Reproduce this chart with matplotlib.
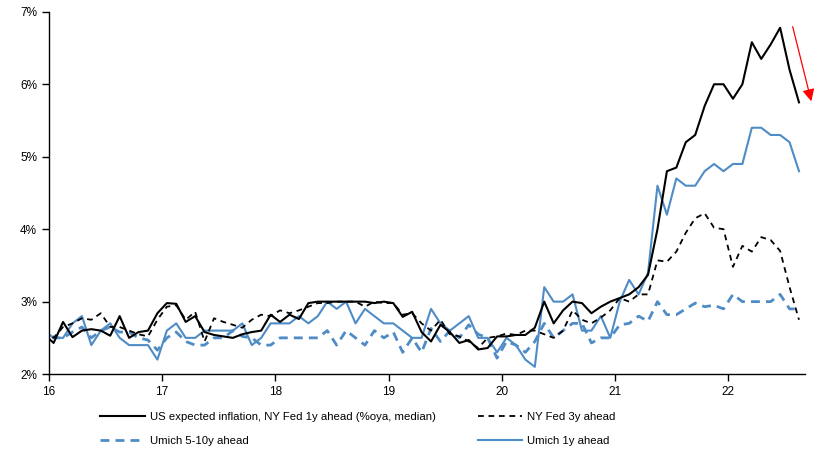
import matplotlib
matplotlib.use("Agg")
import matplotlib.pyplot as plt
import numpy as np

# monthly data, Dec 2015 .. Aug 2022 (%oya)
ny_fed_1y = [
    2.55,
    2.43, 2.72, 2.51, 2.60, 2.62, 2.60, 2.53, 2.80, 2.50, 2.58, 2.60, 2.84,
    2.98, 2.97, 2.72, 2.80, 2.58, 2.54, 2.52, 2.50, 2.55, 2.58, 2.60, 2.82,
    2.72, 2.82, 2.76, 2.98, 3.00, 3.00, 3.00, 3.00, 3.00, 3.00, 2.98, 3.00,
    2.98, 2.79, 2.86, 2.58, 2.45, 2.68, 2.58, 2.43, 2.47, 2.34, 2.36, 2.52,
    2.52, 2.54, 2.54, 2.64, 3.00, 2.70, 2.88, 3.00, 2.98, 2.84, 2.93, 3.00,
    3.05, 3.10, 3.20, 3.37, 4.00, 4.80, 4.85, 5.20, 5.30, 5.70, 6.00, 6.00,
    5.80, 6.00, 6.58, 6.35, 6.55, 6.78, 6.20, 5.75,
]
ny_fed_3y = [
    2.60,
    2.50, 2.65, 2.70, 2.77, 2.75, 2.84, 2.65, 2.65, 2.60, 2.55, 2.52, 2.75,
    2.93, 2.95, 2.75, 2.86, 2.45, 2.77, 2.72, 2.68, 2.64, 2.75, 2.82, 2.80,
    2.88, 2.84, 2.88, 2.93, 2.98, 2.98, 3.00, 3.00, 3.00, 2.93, 3.00, 2.98,
    2.98, 2.82, 2.84, 2.70, 2.60, 2.75, 2.55, 2.52, 2.45, 2.36, 2.50, 2.52,
    2.56, 2.54, 2.60, 2.60, 2.55, 2.50, 2.60, 2.88, 2.75, 2.70, 2.78, 2.88,
    3.05, 3.00, 3.10, 3.10, 3.57, 3.55, 3.69, 3.95, 4.15, 4.22, 4.02, 4.00,
    3.48, 3.77, 3.69, 3.89, 3.85, 3.70, 3.20, 2.75,
]
umich_5_10y = [
    2.70,
    2.50, 2.50, 2.58, 2.65, 2.50, 2.60, 2.65, 2.58, 2.58, 2.50, 2.47, 2.33,
    2.50, 2.58, 2.45, 2.40, 2.40, 2.50, 2.50, 2.60, 2.52, 2.50, 2.40, 2.40,
    2.50, 2.50, 2.50, 2.50, 2.50, 2.60, 2.40, 2.60, 2.50, 2.40, 2.60, 2.50,
    2.58, 2.30, 2.50, 2.30, 2.63, 2.45, 2.60, 2.50, 2.68, 2.55, 2.50, 2.22,
    2.45, 2.40, 2.30, 2.45, 2.70, 2.50, 2.60, 2.70, 2.70, 2.43, 2.50, 2.50,
    2.68, 2.70, 2.80, 2.73, 3.00, 2.82, 2.82, 2.90, 2.98, 2.93, 2.95, 2.90,
    3.10, 3.00, 3.00, 3.00, 3.00, 3.10, 2.90, 2.90,
]
umich_1y = [
    2.60,
    2.50, 2.50, 2.70, 2.80, 2.40, 2.60, 2.70, 2.50, 2.40, 2.40, 2.40, 2.20,
    2.60, 2.70, 2.50, 2.50, 2.60, 2.60, 2.60, 2.60, 2.70, 2.40, 2.50, 2.70,
    2.70, 2.70, 2.80, 2.70, 2.80, 3.00, 2.90, 3.00, 2.70, 2.90, 2.80, 2.70,
    2.70, 2.60, 2.50, 2.50, 2.90, 2.70, 2.60, 2.70, 2.80, 2.50, 2.50, 2.30,
    2.50, 2.40, 2.20, 2.10, 3.20, 3.00, 3.00, 3.10, 2.60, 2.60, 2.80, 2.50,
    3.00, 3.30, 3.10, 3.40, 4.60, 4.20, 4.70, 4.60, 4.60, 4.80, 4.90, 4.80,
    4.90, 4.90, 5.40, 5.40, 5.30, 5.30, 5.20, 4.80,
]
year_ticks = [16, 17, 18, 19, 20, 21, 22]
pct_ticks = [2, 3, 4, 5, 6, 7]

# mid-month positions, first point = Dec 2015
months = np.arange(len(ny_fed_1y)) - 1
x = 16 + (months + 0.5) / 12

plt.rcParams['font.family'] = ['Liberation Sans', 'DejaVu Sans']
BLUE = '#4F8CC6'

fig = plt.figure(figsize=(8.15, 4.54), dpi=100)
ax = fig.add_axes([0.060, 0.176, 0.928, 0.798])

l_um5, = ax.plot(x, umich_5_10y, color=BLUE, lw=2.0, dashes=(3.2, 2.2),
                 label='Umich 5-10y ahead')
l_um1, = ax.plot(x, umich_1y, color=BLUE, lw=1.5, label='Umich 1y ahead')
l_ny3, = ax.plot(x, ny_fed_3y, color='black', lw=1.3, dashes=(3.2, 2.6),
                 label='NY Fed 3y ahead')
l_ny1, = ax.plot(x, ny_fed_1y, color='black', lw=1.5,
                 label='US expected inflation, NY Fed 1y ahead (%oya, median)')

ax.set_xlim(16, 22.68)
ax.set_ylim(2, 7)
ax.set_xticks(year_ticks)
ax.set_xticklabels([str(t) for t in year_ticks], fontsize=8.5)
ax.set_yticks(pct_ticks)
ax.set_yticklabels([f'{t}%' for t in pct_ticks], fontsize=8.5)
ax.tick_params(axis='both', direction='out', length=5, width=1, color='black')
ax.spines['top'].set_visible(False)
ax.spines['right'].set_visible(False)
ax.spines['left'].set_linewidth(1)
ax.spines['bottom'].set_linewidth(1)

# red arrow on the right
ax.annotate('', xy=(812, 350), xycoords='figure pixels',
            xytext=(792, 430), textcoords='figure pixels',
            arrowprops=dict(arrowstyle='-|>', color='red', lw=0.9,
                            mutation_scale=18),
            annotation_clip=False)

fig.legend(handles=[l_ny1, l_um5, l_ny3, l_um1], ncol=2,
           loc='upper left', bbox_to_anchor=(0.123, 0.0925),
           frameon=False, fontsize=8.2, handlelength=3.9, handletextpad=0.45,
           columnspacing=3.7, labelspacing=1.25, borderpad=0, borderaxespad=0)

fig.savefig('out.png', dpi=100)
